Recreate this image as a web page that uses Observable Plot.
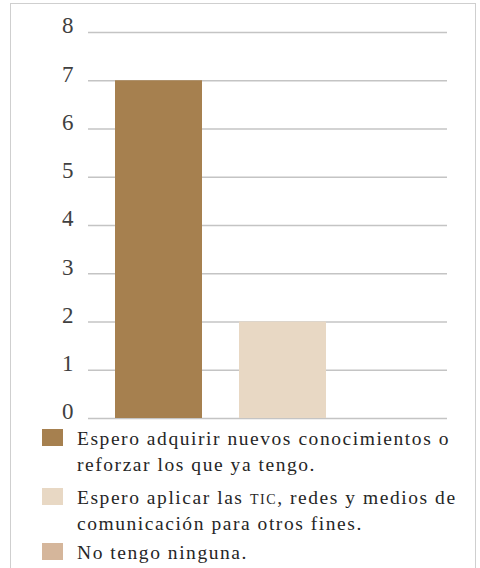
<!DOCTYPE html>
<html>
<head>
<meta charset="utf-8">
<script src="https://cdn.jsdelivr.net/npm/d3@7"></script>
<script src="https://cdn.jsdelivr.net/npm/@observablehq/plot@0.6"></script>
<style>
  html, body { margin: 0; padding: 0; background: #fff; }
  body { width: 480px; height: 568px; position: relative; overflow: hidden; font-family: "Liberation Serif", "Times New Roman", Tinos, "DejaVu Serif", serif; }
  #frame { position: absolute; left: 10px; top: 3px; width: 466px; height: 600px; border: 1.3px solid #cfcfcf; box-sizing: border-box; }
  #chart { position: absolute; left: 0; top: 0; }
  #legend { position: absolute; left: 0; top: 426px; width: 480px; }
  .item { position: relative; padding-left: 77px; font-size: 19.5px; line-height: 25.5px; letter-spacing: 1.55px; color: #262626; white-space: nowrap; }
  .sw { position: absolute; left: 42px; top: 3px; width: 21px; height: 17px; }
  .sc { font-variant: all-small-caps; }
  #chart text { font-family: "Liberation Serif", "Times New Roman", Tinos, "DejaVu Serif", serif; }
</style>
</head>
<body>
<div id="frame"></div>
<div id="chart"></div>
<div id="legend"></div>
<script>
const categories = [
  "Espero adquirir nuevos conocimientos o reforzar los que ya tengo.",
  "Espero aplicar las TIC, redes y medios de comunicación para otros fines.",
  "No tengo ninguna."
];
const values = [7, 2, 0];
const colors = ["#a6804f", "#e8d8c4", "#d5b69b"];
const yTicks = [0, 1, 2, 3, 4, 5, 6, 7, 8];
const legendLines = [
  ["Espero adquirir nuevos conocimientos o", "reforzar los que ya tengo."],
  ["Espero aplicar las TIC, redes y medios de", "comunicación para otros fines."],
  ["No tengo ninguna."]
];

const data = categories.map((c, i) => ({cat: c, value: values[i]}));

const chart = Plot.plot({
  width: 480,
  height: 425,
  marginLeft: 88,
  marginRight: 33,
  marginTop: 32,
  marginBottom: 7,
  style: {background: "transparent"},
  x: {domain: categories, range: [96.4, 468.4], paddingInner: 0.3, paddingOuter: 0.15, axis: null},
  y: {domain: [0, 8], axis: null},
  color: {domain: categories, range: colors},
  marks: [
    Plot.ruleY(yTicks, {stroke: "#c4c4c4", strokeWidth: 1.3}),
    Plot.barY(data, {x: "cat", y: "value", fill: "cat"}),
    Plot.axisY({ticks: yTicks, tickSize: 0, tickPadding: 15, fontSize: 23, dy: -6.5, label: null, color: "#404040", tickFormat: d => String(d)})
  ]
});
document.getElementById("chart").appendChild(chart);

const legend = document.getElementById("legend");
const gaps = [0, 8, 4];
legendLines.forEach((lines, i) => {
  const item = document.createElement("div");
  item.className = "item";
  item.style.marginTop = gaps[i] + "px";
  const sw = document.createElement("span");
  sw.className = "sw";
  sw.style.background = colors[i];
  item.appendChild(sw);
  lines.forEach((ln, j) => {
    if (j > 0) item.appendChild(document.createElement("br"));
    const parts = ln.split("TIC");
    parts.forEach((p, k) => {
      item.appendChild(document.createTextNode(p));
      if (k < parts.length - 1) {
        const s = document.createElement("span");
        s.className = "sc";
        s.textContent = "TIC";
        item.appendChild(s);
      }
    });
  });
  legend.appendChild(item);
});
</script>
</body>
</html>
